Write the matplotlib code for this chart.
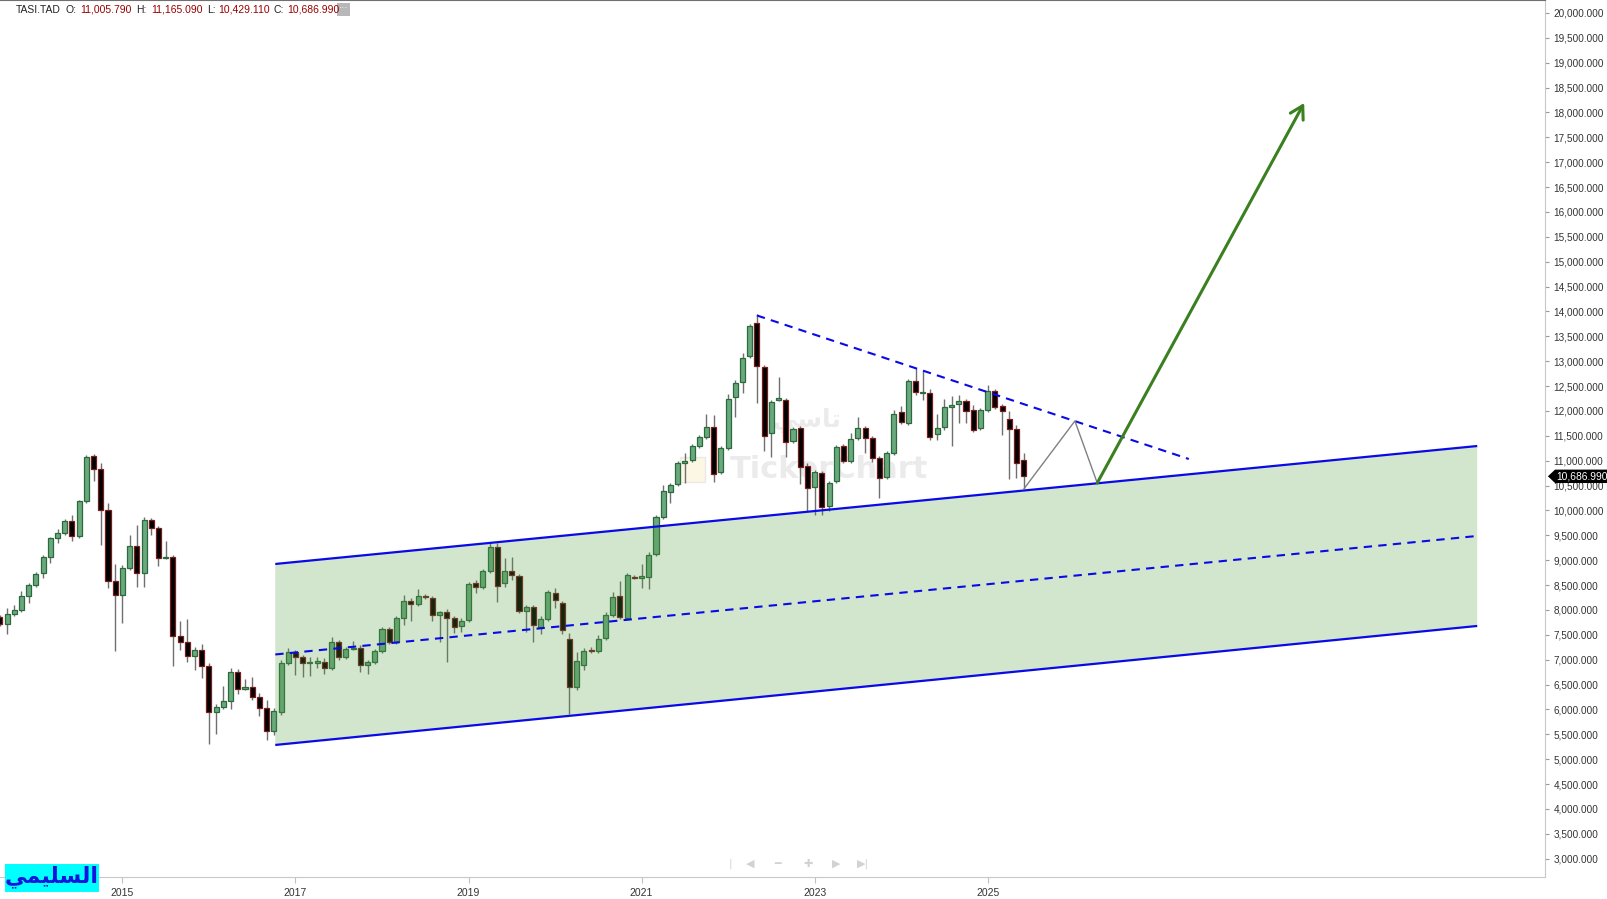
import numpy as np
import matplotlib
matplotlib.use('Agg')
import matplotlib.pyplot as plt
from matplotlib.patches import Polygon, Rectangle
from matplotlib.transforms import blended_transform_factory

plt.rcParams['font.family'] = ['Liberation Sans', 'DejaVu Sans']

W, H = 1607, 899

# monthly TASI candles, first one Aug 2013 (month -17), Jan 2015 = month 0
first_month = -17
opens = [7860, 7720, 7920, 8000, 8280, 8500, 8740, 9070, 9450, 9550, 9790, 9490,
         10190, 11100, 10830, 10010, 8580, 8300, 8840, 9290, 8740, 9810, 9650, 9050,
         9070, 7480, 7360, 7080, 7200, 6870, 5950, 6050, 6170, 6750, 6410, 6450,
         6250, 6030, 5570, 5950, 6940, 7160, 7060, 6930, 6940, 6960, 6830, 7360,
         7060, 7220, 7240, 6890, 6960, 7180, 7620, 7360, 7840, 8180, 8120, 8280,
         8240, 7900, 7960, 7840, 7680, 7800, 8540, 8460, 8780, 9270, 8540, 8780,
         8680, 7980, 8060, 7660, 7820, 8340, 8140, 7420, 6450, 6900, 7200, 7180,
         7440, 7900, 8280, 7840, 8660, 8650, 8660, 9130, 9870, 10370, 10530, 10960,
         11010, 11300, 11480, 11680, 10770, 11260, 12280, 12580, 13100, 13770, 12880, 11560,
         12220, 12220, 11400, 11660, 10900, 10470, 10750, 10090, 10590, 11300, 11000, 11460,
         11660, 11460, 11060, 10670, 11160, 11980, 11760, 12600, 12360, 12360, 11540, 11680,
         12080, 12140, 12200, 12020, 11660, 12020, 12400, 12100, 11840, 11640, 11005.79]
highs = [7900, 8040, 8100, 8380, 8540, 8760, 9110, 9470, 9630, 9830, 9910, 10210,
         11120, 11140, 10960, 10150, 8930, 8900, 9510, 9710, 9870, 9850, 9690, 9390,
         9110, 7780, 7820, 7260, 7320, 6940, 6110, 6470, 6830, 6810, 6610, 6650,
         6330, 6190, 6030, 7000, 7240, 7200, 7100, 7060, 7060, 7040, 7460, 7400,
         7260, 7380, 7300, 7000, 7220, 7660, 7660, 7880, 8300, 8240, 8420, 8320,
         8280, 7980, 8020, 7880, 7840, 8560, 8600, 8820, 9350, 9350, 9050, 9070,
         8720, 8100, 8100, 7880, 8400, 8440, 8180, 7540, 7160, 7240, 7260, 7500,
         7960, 8360, 8580, 8740, 8700, 8920, 9170, 9910, 10510, 10550, 11000, 11160,
         11340, 11520, 11940, 11920, 11300, 12340, 12620, 13170, 13750, 13950, 12930, 12220,
         12680, 12260, 11680, 11700, 10960, 10810, 10790, 10590, 11320, 11340, 11560, 11880,
         11700, 11500, 11100, 11200, 12020, 12100, 12640, 12860, 12800, 12440, 11940, 12240,
         12300, 12320, 12240, 12120, 12060, 12520, 12440, 12140, 12000, 11720, 11165.09]
lows = [7680, 7520, 7880, 7960, 8140, 8460, 8640, 8950, 9350, 9510, 9390, 9450,
        10150, 10590, 9310, 8440, 7180, 7740, 8800, 8460, 8460, 9510, 8880, 9030,
        6870, 7200, 6960, 6790, 6630, 5310, 5510, 6010, 6010, 6310, 6390, 6190,
        5870, 5390, 5490, 5890, 6890, 6690, 6650, 6670, 6830, 6710, 6790, 7000,
        7020, 7200, 6750, 6710, 6910, 7140, 7320, 7320, 7700, 7780, 8080, 8220,
        7780, 7360, 6960, 7540, 7560, 7760, 8340, 8420, 8740, 8160, 8460, 8600,
        7940, 7560, 7360, 7520, 7780, 8040, 7520, 5910, 6390, 6800, 7140, 7140,
        7400, 7860, 7820, 7800, 8620, 8440, 8420, 9090, 9830, 10150, 10490, 10550,
        10980, 11260, 11440, 10570, 10730, 11220, 11880, 12360, 13060, 12160, 11200, 11080,
        12200, 11080, 11360, 10530, 9990, 9910, 9910, 9990, 10550, 10960, 10960, 11420,
        11160, 10980, 10250, 10630, 11120, 11740, 11720, 12320, 12220, 11420, 11420, 11620,
        11300, 11760, 11760, 11580, 11620, 11980, 12040, 11520, 10630, 10650, 10429.11]
closes = [7720, 7920, 8000, 8280, 8500, 8720, 9070, 9450, 9550, 9790, 9490, 10190,
          11080, 10830, 10010, 8580, 8300, 8840, 9290, 8740, 9810, 9650, 9050, 9070,
          7480, 7360, 7080, 7200, 6870, 5950, 6050, 6170, 6750, 6410, 6450, 6250,
          6030, 5570, 5970, 6940, 7160, 7060, 6940, 6950, 6960, 6830, 7360, 7060,
          7220, 7240, 6890, 6960, 7180, 7620, 7360, 7840, 8180, 8120, 8280, 8260,
          7900, 7960, 7840, 7660, 7780, 8520, 8460, 8780, 9270, 8480, 8780, 8700,
          7980, 8060, 7700, 7820, 8360, 8200, 7600, 6450, 6980, 7180, 7180, 7420,
          7900, 8260, 7860, 8700, 8640, 8670, 9110, 9870, 10390, 10510, 10960, 11000,
          11300, 11480, 11680, 10730, 11260, 12240, 12560, 13060, 13710, 12900, 11500, 12180,
          12260, 11380, 11640, 10880, 10450, 10770, 10070, 10550, 11280, 11000, 11440, 11660,
          11460, 11060, 10650, 11160, 11940, 11780, 12600, 12380, 12380, 11480, 11660, 12080,
          12120, 12200, 12000, 11620, 12020, 12400, 12080, 12000, 11640, 10960, 10686.99]

year_labels = ['2015', '2017', '2019', '2021', '2023', '2025']
year_months = [0, 24, 48, 72, 96, 120]

# drawings: (month, price) points
channel_top = [(21.2, 8925), (187.9, 11296)]
channel_bottom = [(21.2, 5287), (187.9, 7679)]
channel_mid = [(21.2, 7106), (187.9, 9488)]
falling_line = [(88.0, 13920), (147.9, 11035)]
zigzag = [(125.0, 10429), (132.1, 11799), (135.2, 10553)]
arrow_end = (163.9, 18191)

last_price = 10686.99

months = np.arange(len(opens)) + first_month
o = np.array(opens)
c = np.array(closes)
hi = np.array(highs)
lo = np.array(lows)
up = c >= o

fig = plt.figure(figsize=(W / 100, H / 100), dpi=100)
ax = fig.add_axes([0, 22 / H, 1545 / W, 877 / H])

# candles
ax.vlines(months, lo, hi, color='#707070', lw=1, zorder=2)
body_bottom = np.minimum(o, c)
body_height = np.maximum(np.abs(c - o), 25)
ax.bar(months[up], body_height[up], bottom=body_bottom[up], width=0.7,
       color='#6aa97e', edgecolor='#2b6a3c', lw=0.9, zorder=3)
ax.bar(months[~up], body_height[~up], bottom=body_bottom[~up], width=0.7,
       color='black', edgecolor='#7b1c1c', lw=0.9, zorder=3)

# channel
poly = Polygon([channel_top[0], channel_top[1], channel_bottom[1], channel_bottom[0]],
               closed=True, facecolor='#4f9a3a', alpha=0.25, edgecolor='none', zorder=4)
ax.add_patch(poly)
for pts in (channel_top, channel_bottom):
    ax.plot([p[0] for p in pts], [p[1] for p in pts], color='#0a0ae6', lw=1.6, zorder=5,
            solid_capstyle='butt')
ax.plot([p[0] for p in channel_mid], [p[1] for p in channel_mid], color='#0a0ae6', lw=1.5,
        ls=(0, (4, 3)), zorder=5)
ax.plot([p[0] for p in falling_line], [p[1] for p in falling_line], color='#0a0ae6', lw=1.5,
        ls=(0, (4, 3)), zorder=5)

# projected path
ax.plot([p[0] for p in zigzag], [p[1] for p in zigzag], color='#808080', lw=1, zorder=5)
ax.annotate('', xy=arrow_end, xytext=zigzag[-1],
            arrowprops=dict(arrowstyle='->, head_length=0.6, head_width=0.35',
                            color='#3b8020', lw=2.2, shrinkA=0, shrinkB=0,
                            mutation_scale=15), zorder=6)

# watermark
ax.add_patch(Rectangle((77.3, 10573), 3.5, 503, facecolor='#fbf1d2', edgecolor='#dddddd',
                       lw=1, alpha=0.6, zorder=1))
ax.text(98.0, 10814, 'TickerChart', fontsize=22, fontweight='bold', color='black',
        alpha=0.08, ha='center', va='center', family=['DejaVu Sans'], zorder=1)
ax.text(94.9, 11799, '\ufef2\ufeb3\ufe8e\ufe97', fontsize=18, fontweight='bold',
        color='black', alpha=0.08, ha='center', va='center', family=['DejaVu Sans'], zorder=1)

ax.set_xlim(-16.98, 197.3)
ax.set_ylim(2633, 20261)

ax.yaxis.tick_right()
yt = np.arange(3000, 20001, 500)
ax.set_yticks(yt)
ax.set_yticklabels([f'{v:,.3f}' for v in yt])
ax.set_xticks(year_months)
ax.set_xticklabels(year_labels)
ax.tick_params(axis='y', length=3, color='#9a9a9a', labelsize=7.2, labelcolor='#333333', pad=3)
ax.tick_params(axis='x', length=4, color='#c0c0c0', labelsize=7.5, labelcolor='#333333', pad=4)

ax.spines['left'].set_visible(False)
ax.spines['top'].set_color('#707070')
ax.spines['right'].set_color('#c8c8c8')
ax.spines['bottom'].set_color('#c8c8c8')

# last price tag
tr = blended_transform_factory(ax.transAxes, ax.transData)
hh = 135
tag = Polygon([(1.0019, last_price), (1.0065, last_price + hh), (1.045, last_price + hh),
               (1.045, last_price - hh), (1.0065, last_price - hh)], closed=True,
              facecolor='black', edgecolor='none', transform=tr, clip_on=False, zorder=10)
ax.add_patch(tag)
ax.text(1.0072, last_price, f'{last_price:,.3f}', transform=tr, color='white', fontsize=7.4,
        va='center', ha='left', clip_on=False, zorder=11)

# header
def px(x, y):
    return x / W, 1 - y / H

hdr = [(16, 'TASI.TAD', '#222222'), (65, 'O:', '#222222'), (80, '11,005.790', '#990000'),
       (136, 'H:', '#222222'), (151, '11,165.090', '#990000'), (207, 'L:', '#222222'),
       (218, '10,429.110', '#990000'), (273, 'C:', '#222222'), (287, '10,686.990', '#990000')]
for x, s, col in hdr:
    fig.text(*px(x, 10), s, fontsize=7.5, color=col, va='center', ha='left')
fig.patches.append(Rectangle(px(337, 16), 13 / W, 13 / H, transform=fig.transFigure,
                             facecolor='#b8b8b8', edgecolor='none'))
fig.text(*px(343.5, 8), '···', fontsize=7, color='white', ha='center', va='center')

# chart navigation icons
for x, s in [(730, '|'), (750, '◀'), (778, '━'), (808, '✚'), (836, '▶'), (863, '▶|')]:
    fig.text(*px(x, 864), s, fontsize=8, color='#d2d2d2', ha='center', va='center',
             family=['DejaVu Sans'])

# author label
fig.patches.append(Rectangle(px(5, 892), 94 / W, 28 / H, transform=fig.transFigure,
                             facecolor='#00ffff', edgecolor='none', zorder=20))
fig.text(*px(52, 877), '\ufef2\ufee4\ufef4\ufee0\ufeb4\ufedf\ufe8d', fontsize=16,
         fontweight='bold', color='#1414dc', ha='center', va='center',
         family=['DejaVu Sans'], zorder=21)

fig.savefig('out.png', dpi=100)
